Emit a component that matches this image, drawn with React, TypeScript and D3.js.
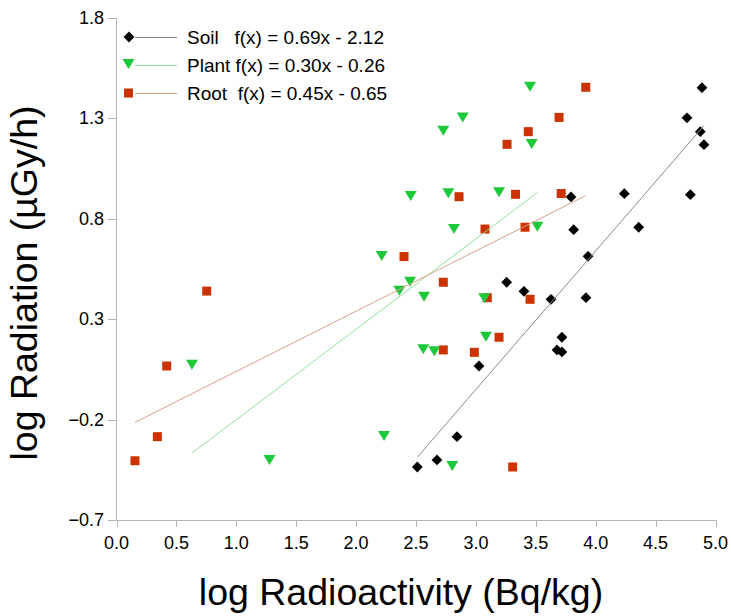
import React from "react";
import * as d3 from "d3";

const soilX = [4.887, 4.762, 4.873, 4.904, 4.239, 4.79, 3.794, 3.816, 4.359, 3.936, 3.919, 3.677, 3.718, 3.718, 3.627, 3.401, 3.257, 3.026, 2.842, 2.675, 2.511];
const soilY = [1.453, 1.303, 1.234, 1.169, 0.925, 0.92, 0.909, 0.746, 0.758, 0.613, 0.407, 0.147, 0.137, 0.21, 0.399, 0.439, 0.484, 0.067, -0.285, -0.401, -0.436];

const plantX = [0.63, 1.277, 2.233, 2.214, 2.361, 2.45, 2.567, 2.456, 2.728, 2.77, 2.817, 2.89, 2.561, 2.653, 2.803, 3.07, 3.084, 3.193, 3.452, 3.466, 3.513];
const plantY = [0.073, -0.401, -0.282, 0.615, 0.442, 0.487, 0.412, 0.914, 1.239, 0.927, 0.749, 1.305, 0.15, 0.14, -0.431, 0.404, 0.213, 0.932, 1.458, 1.173, 0.761];

const rootX = [0.154, 0.341, 0.419, 0.753, 2.4, 2.728, 2.728, 2.859, 2.987, 3.076, 3.095, 3.193, 3.26, 3.307, 3.331, 3.41, 3.437, 3.452, 3.694, 3.712, 3.917];
const rootY = [-0.405, -0.285, 0.067, 0.44, 0.612, 0.484, 0.147, 0.91, 0.135, 0.749, 0.407, 0.21, 1.171, -0.436, 0.922, 0.758, 1.234, 0.399, 1.305, 0.926, 1.455];

// trend lines as drawn: [slope, intercept]
const soilFit = [0.69, -2.12];
const plantFit = [0.45, -0.65];
const rootFit = [0.3, -0.26];

const legendLabels = ["Soil   f(x) = 0.69x - 2.12", "Plant f(x) = 0.30x - 0.26", "Root  f(x) = 0.45x - 0.65"];

const xTicks = [0, 0.5, 1, 1.5, 2, 2.5, 3, 3.5, 4, 4.5, 5];
const yTicks = [-0.7, -0.2, 0.3, 0.8, 1.3, 1.8];

const BLACK = "#000000";
const GREEN = "#1dc83a";
const RED = "#cc3300";
const SOIL_LINE = "#8a8a8a";
const PLANT_LINE = "#8fe09c";
const ROOT_LINE = "#d9a08a";
const AXIS = "#b3b3b3";
const FONT = "Liberation Sans, Arial, sans-serif";

const x = d3.scaleLinear().domain([0, 5]).range([116.5, 715.5]);
const y = d3.scaleLinear().domain([-0.7, 1.8]).range([520, 18]);

function diamond(cx: number, cy: number, r = 5.4) {
  return `M${cx},${cy - r}L${cx + r},${cy}L${cx},${cy + r}L${cx - r},${cy}Z`;
}
function triangle(cx: number, cy: number) {
  return `M${cx - 6},${cy - 5}L${cx + 6},${cy - 5}L${cx},${cy + 5}Z`;
}

function fitLine(xs: number[], fit: number[]) {
  const x0 = d3.min(xs) as number;
  const x1 = d3.max(xs) as number;
  return d3.line<number>()
    .x((d) => x(d))
    .y((d) => y(fit[0] * d + fit[1]))([x0, x1]) as string;
}

export default function App() {
  const legendColors = [BLACK, GREEN, RED];
  const legendLines = [SOIL_LINE, PLANT_LINE, ROOT_LINE];
  return (
    <svg width={731} height={616} style={{ position: "absolute", left: 0, top: 0, background: "#fff" }}>
      {/* axes */}
      <line x1={116.5} x2={116.5} y1={18} y2={520} stroke={AXIS} />
      <line x1={116.5} x2={715.5} y1={520.5} y2={520.5} stroke={AXIS} />
      {yTicks.map((t) => (
        <g key={"y" + t}>
          <line x1={108} x2={116.5} y1={Math.round(y(t)) + 0.5} y2={Math.round(y(t)) + 0.5} stroke={AXIS} />
          <text x={104} y={y(t) + 6} textAnchor="end" fontFamily={FONT} fontSize={18} fill="#000">
            {d3.format(".1f")(t)}
          </text>
        </g>
      ))}
      {xTicks.map((t) => (
        <g key={"x" + t}>
          <line x1={Math.round(x(t)) + 0.5} x2={Math.round(x(t)) + 0.5} y1={520} y2={527} stroke={AXIS} />
          <text x={x(t)} y={549} textAnchor="middle" fontFamily={FONT} fontSize={18} fill="#000">
            {d3.format(".1f")(t)}
          </text>
        </g>
      ))}
      {/* titles */}
      <text x={401} y={605} textAnchor="middle" fontFamily={FONT} fontSize={37.5} fill="#000">
        log Radioactivity (Bq/kg)
      </text>
      <text transform="translate(37,283) rotate(-90)" textAnchor="middle" fontFamily={FONT} fontSize={37.5} fill="#000">
        log Radiation (µGy/h)
      </text>
      {/* markers */}
      {rootX.map((v, i) => (
        <rect key={"r" + i} x={x(v) - 4.5} y={y(rootY[i]) - 4.5} width={9} height={9} fill={RED} />
      ))}
      {plantX.map((v, i) => (
        <path key={"p" + i} d={triangle(x(v), y(plantY[i]))} fill={GREEN} />
      ))}
      {soilX.map((v, i) => (
        <path key={"s" + i} d={diamond(x(v), y(soilY[i]))} fill={BLACK} />
      ))}
      {/* trend lines */}
      <path d={fitLine(soilX, soilFit)} stroke={SOIL_LINE} fill="none" strokeWidth={1} />
      <path d={fitLine(plantX, plantFit)} stroke={PLANT_LINE} fill="none" strokeWidth={1} />
      <path d={fitLine(rootX, rootFit)} stroke={ROOT_LINE} fill="none" strokeWidth={1} />
      {/* legend */}
      {legendLabels.map((lab, i) => {
        const cy = 37 + i * 28;
        return (
          <g key={"l" + i}>
            <line x1={135} x2={177} y1={cy + 0.5} y2={cy + 0.5} stroke={legendLines[i]} />
            {i === 0 && <path d={diamond(129, cy)} fill={legendColors[i]} />}
            {i === 1 && <path d={triangle(128.5, cy - 1)} fill={legendColors[i]} />}
            {i === 2 && <rect x={124} y={cy - 4.5} width={9} height={9} fill={legendColors[i]} />}
            <text x={187} y={cy + 7} fontFamily={FONT} fontSize={19} fill="#000" style={{ whiteSpace: "pre" }}>
              {lab}
            </text>
          </g>
        );
      })}
    </svg>
  );
}
